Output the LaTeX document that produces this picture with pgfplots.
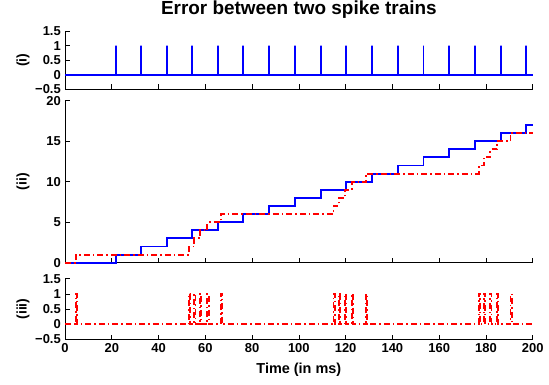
\documentclass[border=0pt]{standalone}
\usepackage{fontspec}
\setmainfont{Liberation Sans}
\usepackage{pgfplots}
\pgfplotsset{compat=1.18}
\definecolor{mblue}{RGB}{0,0,255}
\definecolor{mred}{RGB}{255,0,0}
\pgfplotsset{
  common/.style={
    scale only axis, width=467.7bp, xmin=0, xmax=200,
    axis x line*=bottom, axis y line*=left,
    xtick={0,20,...,200},
    tick align=inside, major tick length=4.5bp,
    axis line style={line width=0.6bp, black},
    tick style={line width=0.6bp, black},
    tick label style={font=\fontsize{13}{13}\selectfont\bfseries},
    /pgf/number format/assume math mode=true,
    xticklabel style={inner sep=0pt, anchor=north, yshift=-3.5bp},
    yticklabel style={inner sep=0pt, anchor=east, xshift=-4bp},
    ylabel style={at={(axis description cs:-0.0898,0.5)}, anchor=center, rotate=0, inner sep=0pt, font=\fontsize{14}{14}\selectfont\bfseries},
    clip=false,
  },
  bl/.style={color=mblue, line width=1.9bp},
  rd/.style={color=mred, line width=1.9bp, dash pattern=on 6bp off 3bp on 1.5bp off 3bp},
}
\begin{document}
\begin{tikzpicture}
% top panel
\begin{axis}[common, at={(0,0)}, anchor=north west, height=57.7bp,
  ymin=-0.5, ymax=1.5, ytick={-0.5,0,0.5,1,1.5}, yticklabels={−0.5,0,0.5,1,1.5},
  xticklabels={},
  ylabel={(i)},
  title={Error between two spike trains},
  title style={at={(axis description cs:0.5,1)}, anchor=center, yshift=15.8bp, inner sep=0pt, font=\fontsize{19}{19}\selectfont\bfseries}]
\addplot[bl] coordinates {(0,0)
(21.7,0)(21.7,1)(21.7,0)
(32.6,0)(32.6,1)(32.6,0)
(43.5,0)(43.5,1)(43.5,0)
(54.4,0)(54.4,1)(54.4,0)
(65.3,0)(65.3,1)(65.3,0)
(76.3,0)(76.3,1)(76.3,0)
(87.3,0)(87.3,1)(87.3,0)
(98.3,0)(98.3,1)(98.3,0)
(109.3,0)(109.3,1)(109.3,0)
(120.3,0)(120.3,1)(120.3,0)
(131.3,0)(131.3,1)(131.3,0)
(142.3,0)(142.3,1)(142.3,0)
(153.3,0)(153.3,1)(153.3,0)
(164.2,0)(164.2,1)(164.2,0)
(175.2,0)(175.2,1)(175.2,0)
(186.3,0)(186.3,1)(186.3,0)
(197.2,0)(197.2,1)(197.2,0)
(200,0)};
\end{axis}
% middle panel
\begin{axis}[common, at={(0,-69.4bp)}, anchor=north west, height=162bp,
  ymin=0, ymax=20, ytick={0,5,10,15,20},
  xticklabels={},
  ylabel={(ii)}]
\addplot[bl, const plot] coordinates {(0,0)(21.7,1)(32.6,2)(43.5,3)(54.4,4)(65.3,5)(76.3,6)(87.3,7)(98.3,8)(109.3,9)(120.3,10)(131.3,11)(142.3,12)(153.3,13)(164.2,14)(175.2,15)(186.3,16)(197.2,17)(200,17)};
\addplot[rd, const plot] coordinates {(0,0)(4.7,1)(53.1,2)(55.3,3)(57.8,4)(60.9,5)(66.6,6)(114.8,7)(117.0,8)(119.8,9)(122.7,10)(128.8,11)(176.9,12)(179.0,13)(181.9,14)(184.7,15)(190.5,16)(200,16)};
\end{axis}
% bottom panel
\begin{axis}[common, at={(0,-247.4bp)}, anchor=north west, height=60.6bp,
  ymin=-0.5, ymax=1.5, ytick={-0.5,0,0.5,1,1.5}, yticklabels={−0.5,0,0.5,1,1.5},
  ylabel={(iii)},
  xlabel={Time (in ms)},
  xlabel style={at={(axis description cs:0.5,0)}, anchor=center, yshift=-30bp, inner sep=0pt, font=\fontsize{14.5}{14.5}\selectfont\bfseries}]
\addplot[rd] coordinates {(0,0)
(4.7,0)(4.7,1)(5.2,1)(5.2,0)
(53.1,0)(53.1,1)(53.6,1)(53.6,0)
(55.3,0)(55.3,1)(55.8,1)(55.8,0)
(57.8,0)(57.8,1)(58.3,1)(58.3,0)
(60.9,0)(60.9,1)(61.4,1)(61.4,0)
(66.6,0)(66.6,1)(67.1,1)(67.1,0)
(114.8,0)(114.8,1)(115.3,1)(115.3,0)
(117.0,0)(117.0,1)(117.5,1)(117.5,0)
(119.8,0)(119.8,1)(120.3,1)(120.3,0)
(122.7,0)(122.7,1)(123.2,1)(123.2,0)
(128.8,0)(128.8,1)(129.3,1)(129.3,0)
(176.9,0)(176.9,1)(177.4,1)(177.4,0)
(179.0,0)(179.0,1)(179.5,1)(179.5,0)
(181.9,0)(181.9,1)(182.4,1)(182.4,0)
(184.7,0)(184.7,1)(185.2,1)(185.2,0)
(190.5,0)(190.5,1)(191.0,1)(191.0,0)
(200,0)};
\end{axis}
\pgfresetboundingbox
\path[use as bounding box] (-65bp,31.3bp) rectangle (484bp,-353.7bp);
\end{tikzpicture}
\end{document}
